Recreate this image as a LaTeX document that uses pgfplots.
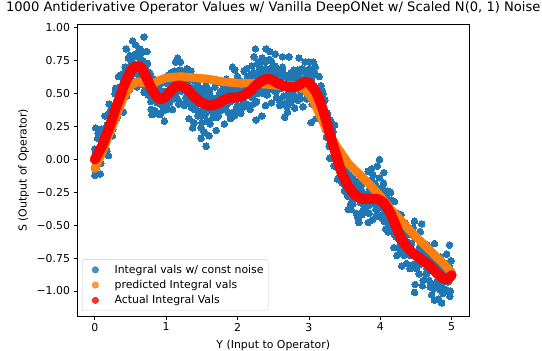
\documentclass[border=0pt]{standalone}
\usepackage{fontspec}
\setmainfont{DejaVu Sans}
\usepackage{pgfplots}
\pgfplotsset{compat=1.18}
\definecolor{tabblue}{HTML}{1F77B4}
\definecolor{taborange}{HTML}{FF7F0E}

\begin{document}
\begin{tikzpicture}
\begin{axis}[
  name=ax,
  width=392.5pt, height=291.5pt, scale only axis,
  clip mode=individual,
  xmin=-0.25, xmax=5.25, ymin=-1.19, ymax=1.025,
  xtick={0,1,2,3,4,5},
  ytick={-1,-0.75,-0.5,-0.25,0,0.25,0.5,0.75,1},
  yticklabels={−1.00,−0.75,−0.50,−0.25,0.00,0.25,0.50,0.75,1.00},
  tick align=outside, tick pos=left, major tick length=3.5pt,
  every tick/.style={black, line width=0.8pt},
  axis line style={line width=0.8pt},
  /pgf/number format/assume math mode=true,
  tick label style={font=\fontsize{10.9}{13}\selectfont},
  title={1000 Antiderivative Operator Values w/ Vanilla DeepONet w/ Scaled N(0, 1) Noise},
  title style={font=\fontsize{13.1}{15}\selectfont, at={(axis description cs:0.5,1.0223)}, anchor=base, inner sep=0pt},
  xlabel={Y (Input to Operator)},
  ylabel={S (Output of Operator)},
  xlabel style={at={(axis description cs:0.5,-0.112)}, anchor=base, inner sep=0pt},
  ylabel style={at={(axis description cs:-0.1223,0.5)}, anchor=south, inner sep=0pt},
  label style={font=\fontsize{10.9}{13}\selectfont},
  legend cell align=left,
  legend style={at={(0.0127,0.0172)}, anchor=south west, draw=black!20,
    rounded corners=2pt, fill=white, fill opacity=0.8, text opacity=1,
    font=\fontsize{10.9}{13}\selectfont, inner xsep=3pt, inner ysep=4pt,
    row sep=2.5pt, column sep=7.5pt, nodes={inner sep=1.5pt}},
]
% noisy samples
\addplot[forget plot, only marks, mark=*, mark size=3.3pt, color=tabblue, mark options={line width=0pt}] coordinates {
(0.000,0.08)(0.015,-0.11)(0.030,0.06)(0.045,0.20)(0.060,0.01)(0.075,-0.11)(0.090,0.20)
(0.000,-0.12)(0.010,0.24)(0.020,-0.05)
(0.100,0.23)(0.115,0.14)(0.130,0.08)(0.145,0.33)(0.160,0.08)(0.175,0.26)(0.190,0.03)
(0.200,0.42)(0.215,0.22)(0.230,0.40)(0.245,0.18)(0.260,0.37)(0.275,0.29)(0.290,0.54)
(0.300,0.41)(0.315,0.33)(0.330,0.63)(0.345,0.44)(0.360,0.55)(0.375,0.37)(0.390,0.65)
(0.400,0.36)(0.415,0.63)(0.430,0.68)(0.445,0.48)(0.460,0.63)(0.475,0.59)(0.490,0.79)
(0.440,0.84)(0.470,0.77)
(0.500,0.60)(0.515,0.72)(0.530,0.90)(0.545,0.59)(0.560,0.69)(0.575,0.80)(0.590,0.55)
(0.570,0.87)
(0.600,0.81)(0.615,0.68)(0.630,0.84)(0.645,0.62)(0.660,0.69)(0.675,0.75)(0.690,0.51)
(0.690,0.93)(0.620,0.78)
(0.700,0.58)(0.715,0.67)(0.730,0.82)(0.745,0.49)(0.760,0.57)(0.775,0.65)(0.790,0.38)
(0.800,0.34)(0.815,0.58)(0.830,0.60)(0.845,0.37)(0.860,0.49)(0.875,0.43)(0.890,0.60)
(0.900,0.54)(0.915,0.34)(0.930,0.49)(0.945,0.61)(0.960,0.41)(0.975,0.29)(0.990,0.59)
(1.000,0.58)(1.015,0.46)(1.030,0.64)(1.045,0.43)(1.060,0.52)(1.075,0.60)(1.090,0.38)
(1.100,0.55)(1.115,0.46)(1.130,0.74)(1.145,0.54)(1.160,0.62)(1.175,0.42)(1.190,0.68)
(1.160,0.77)
(1.200,0.74)(1.215,0.52)(1.230,0.66)(1.245,0.42)(1.260,0.58)(1.275,0.47)(1.290,0.69)
(1.300,0.66)(1.315,0.54)(1.330,0.45)(1.345,0.67)(1.360,0.39)(1.375,0.54)(1.390,0.28)
(1.320,0.31)(1.370,0.24)
(1.400,0.60)(1.415,0.41)(1.430,0.47)(1.445,0.33)(1.460,0.54)(1.475,0.50)(1.490,0.24)
(1.490,0.16)
(1.500,0.28)(1.515,0.50)(1.530,0.42)(1.545,0.34)(1.560,0.56)(1.575,0.39)(1.590,0.51)
(1.560,0.10)(1.530,0.21)(1.600,0.18)
(1.600,0.53)(1.615,0.27)(1.630,0.47)(1.645,0.39)(1.660,0.60)(1.675,0.33)(1.690,0.43)
(1.700,0.22)(1.715,0.47)(1.730,0.33)(1.745,0.60)(1.760,0.37)(1.775,0.46)(1.790,0.58)
(1.800,0.56)(1.815,0.27)(1.830,0.41)(1.845,0.61)(1.860,0.49)(1.875,0.35)(1.890,0.55)
(1.900,0.31)(1.915,0.56)(1.930,0.46)(1.945,0.36)(1.960,0.68)(1.975,0.51)(1.990,0.40)
(1.930,0.70)
(2.000,0.63)(2.015,0.40)(2.030,0.51)(2.045,0.35)(2.060,0.59)(2.075,0.45)(2.090,0.67)
(2.100,0.50)(2.115,0.41)(2.130,0.69)(2.145,0.49)(2.160,0.57)(2.175,0.38)(2.190,0.65)
(2.200,0.71)(2.215,0.50)(2.230,0.66)(2.245,0.43)(2.260,0.59)(2.275,0.50)(2.290,0.74)
(2.250,0.84)(2.260,0.30)(2.230,0.78)
(2.300,0.71)(2.315,0.61)(2.330,0.53)(2.345,0.77)(2.360,0.50)(2.375,0.66)(2.390,0.41)
(2.340,0.33)
(2.400,0.69)(2.415,0.49)(2.430,0.64)(2.445,0.76)(2.460,0.56)(2.475,0.43)(2.490,0.71)
(2.450,0.82)(2.400,0.84)
(2.500,0.53)(2.515,0.63)(2.530,0.80)(2.545,0.47)(2.560,0.57)(2.575,0.67)(2.590,0.41)
(2.600,0.67)(2.615,0.54)(2.630,0.70)(2.645,0.48)(2.660,0.56)(2.675,0.63)(2.690,0.40)
(2.630,0.78)(2.660,0.32)
(2.700,0.36)(2.715,0.61)(2.730,0.64)(2.745,0.43)(2.760,0.56)(2.775,0.50)(2.790,0.68)
(2.720,0.78)
(2.800,0.39)(2.815,0.64)(2.830,0.55)(2.845,0.45)(2.860,0.77)(2.875,0.61)(2.890,0.51)
(2.900,0.69)(2.915,0.40)(2.930,0.54)(2.945,0.74)(2.960,0.62)(2.975,0.47)(2.990,0.66)
(3.000,0.74)(3.015,0.50)(3.030,0.59)(3.045,0.42)(3.060,0.65)(3.075,0.49)(3.090,0.70)
(3.030,0.28)(3.060,0.74)
(3.100,0.31)(3.115,0.54)(3.130,0.37)(3.145,0.63)(3.160,0.37)(3.175,0.43)(3.190,0.52)
(3.200,0.50)(3.215,0.29)(3.230,0.33)(3.245,0.17)(3.260,0.35)(3.275,0.29)(3.290,0.01)
(3.300,0.30)(3.315,0.01)(3.330,0.19)(3.345,0.08)(3.360,0.26)(3.375,-0.05)(3.390,0.03)
(3.400,-0.15)(3.415,0.04)(3.430,-0.05)(3.445,-0.16)(3.460,0.04)(3.475,-0.15)(3.490,-0.04)
(3.500,-0.05)(3.515,-0.20)(3.530,-0.04)(3.545,-0.28)(3.560,-0.21)(3.575,-0.15)(3.590,-0.38)
(3.550,-0.38)
(3.600,-0.23)(3.615,-0.34)(3.630,-0.07)(3.645,-0.29)(3.660,-0.21)(3.675,-0.42)(3.690,-0.17)
(3.690,-0.45)
(3.700,-0.48)(3.715,-0.23)(3.730,-0.20)(3.745,-0.42)(3.760,-0.29)(3.775,-0.35)(3.790,-0.17)
(3.800,-0.37)(3.815,-0.26)(3.830,-0.09)(3.845,-0.41)(3.860,-0.31)(3.875,-0.21)(3.890,-0.46)
(3.830,-0.48)(3.880,-0.07)
(3.900,-0.12)(3.915,-0.34)(3.930,-0.19)(3.945,-0.43)(3.960,-0.27)(3.975,-0.37)(3.990,-0.14)
(3.990,0.00)(3.960,-0.05)
(4.000,-0.23)(4.015,-0.44)(4.030,-0.29)(4.045,-0.18)(4.060,-0.39)(4.075,-0.53)(4.090,-0.25)
(4.050,-0.10)(4.110,-0.55)
(4.100,-0.24)(4.115,-0.37)(4.130,-0.46)(4.145,-0.25)(4.160,-0.53)(4.175,-0.40)(4.190,-0.67)
(4.200,-0.32)(4.215,-0.57)(4.230,-0.49)(4.245,-0.67)(4.260,-0.45)(4.275,-0.62)(4.290,-0.42)
(4.230,-0.73)
(4.300,-0.81)(4.315,-0.57)(4.330,-0.73)(4.345,-0.48)(4.360,-0.72)(4.375,-0.65)(4.390,-0.54)
(4.400,-0.56)(4.415,-0.83)(4.430,-0.64)(4.445,-0.73)(4.460,-0.52)(4.475,-0.81)(4.490,-0.72)
(4.480,-0.47)(4.480,-1.01)(4.490,-0.95)
(4.500,-0.60)(4.515,-0.79)(4.530,-0.73)(4.545,-0.87)(4.560,-0.66)(4.575,-0.70)(4.590,-0.96)
(4.580,-0.49)(4.560,-0.55)
(4.600,-0.92)(4.615,-0.71)(4.630,-0.78)(4.645,-0.87)(4.660,-0.65)(4.675,-0.83)(4.690,-0.71)
(4.700,-0.97)(4.715,-0.73)(4.730,-0.84)(4.745,-0.95)(4.760,-0.64)(4.775,-0.82)(4.790,-0.93)
(4.760,-1.07)(4.720,-1.03)
(4.800,-0.76)(4.815,-1.06)(4.830,-0.93)(4.845,-0.74)(4.860,-0.86)(4.875,-1.02)(4.890,-0.83)
(4.860,-1.09)(4.840,-0.99)
(4.900,-0.90)(4.915,-1.00)(4.930,-0.72)(4.945,-0.93)(4.960,-0.84)(4.975,-1.04)(4.990,-0.77)
(4.970,-0.65)(5.000,-0.86)(4.950,-1.00)
};
% more samples, closer to the curve
\addplot[forget plot, only marks, mark=*, mark size=3.3pt, color=tabblue, mark options={line width=0pt}] coordinates {
(0.008,0.06)(0.023,-0.06)(0.038,0.16)(0.053,0.03)(0.068,0.16)(0.083,-0.03)(0.098,0.13)
(0.108,0.05)(0.123,0.23)(0.138,0.14)(0.153,0.24)(0.168,0.06)(0.183,0.26)(0.198,0.24)
(0.208,0.36)(0.223,0.24)(0.238,0.36)(0.253,0.23)(0.268,0.37)(0.283,0.50)(0.298,0.33)
(0.308,0.31)(0.323,0.46)(0.338,0.40)(0.353,0.55)(0.368,0.64)(0.383,0.49)(0.398,0.61)
(0.408,0.58)(0.423,0.70)(0.438,0.52)(0.453,0.57)(0.468,0.70)(0.483,0.53)(0.498,0.76)
(0.508,0.64)(0.523,0.74)(0.538,0.79)(0.553,0.56)(0.568,0.71)(0.583,0.79)(0.598,0.65)
(0.608,0.78)(0.623,0.61)(0.638,0.74)(0.653,0.81)(0.668,0.61)(0.683,0.67)(0.698,0.56)
(0.708,0.69)(0.723,0.54)(0.738,0.73)(0.753,0.57)(0.768,0.66)(0.783,0.44)(0.798,0.56)
(0.808,0.46)(0.823,0.61)(0.838,0.49)(0.853,0.56)(0.868,0.35)(0.883,0.51)(0.898,0.46)
(0.908,0.57)(0.923,0.42)(0.938,0.52)(0.953,0.37)(0.968,0.49)(0.983,0.60)(0.998,0.41)
(1.008,0.38)(1.023,0.52)(1.038,0.45)(1.053,0.59)(1.068,0.66)(1.083,0.50)(1.098,0.60)
(1.108,0.56)(1.123,0.67)(1.138,0.48)(1.153,0.52)(1.168,0.63)(1.183,0.44)(1.198,0.65)
(1.208,0.53)(1.223,0.62)(1.238,0.65)(1.253,0.41)(1.268,0.55)(1.283,0.62)(1.298,0.47)
(1.308,0.60)(1.323,0.42)(1.338,0.55)(1.353,0.61)(1.368,0.42)(1.383,0.48)(1.398,0.38)
(1.408,0.52)(1.423,0.38)(1.438,0.58)(1.453,0.43)(1.468,0.53)(1.483,0.33)(1.498,0.46)
(1.508,0.37)(1.523,0.53)(1.538,0.41)(1.553,0.49)(1.568,0.29)(1.583,0.45)(1.598,0.41)
(1.608,0.52)(1.623,0.37)(1.638,0.47)(1.653,0.32)(1.668,0.43)(1.683,0.55)(1.698,0.35)
(1.708,0.32)(1.723,0.45)(1.738,0.38)(1.753,0.51)(1.768,0.58)(1.783,0.41)(1.798,0.51)
(1.808,0.47)(1.823,0.57)(1.838,0.38)(1.853,0.42)(1.868,0.53)(1.883,0.35)(1.898,0.56)
(1.908,0.44)(1.923,0.53)(1.938,0.57)(1.953,0.33)(1.968,0.48)(1.983,0.55)(1.998,0.41)
(2.008,0.54)(2.023,0.37)(2.038,0.52)(2.053,0.59)(2.068,0.41)(2.083,0.49)(2.098,0.40)
(2.108,0.54)(2.123,0.42)(2.138,0.63)(2.153,0.49)(2.168,0.61)(2.183,0.41)(2.198,0.56)
(2.208,0.47)(2.223,0.64)(2.238,0.54)(2.253,0.63)(2.268,0.44)(2.283,0.61)(2.298,0.58)
(2.308,0.69)(2.323,0.55)(2.338,0.66)(2.353,0.51)(2.368,0.62)(2.383,0.74)(2.398,0.54)
(2.408,0.51)(2.423,0.64)(2.438,0.56)(2.453,0.69)(2.468,0.75)(2.483,0.58)(2.498,0.66)
(2.508,0.62)(2.523,0.71)(2.538,0.51)(2.553,0.54)(2.568,0.65)(2.583,0.45)(2.598,0.66)
(2.608,0.54)(2.623,0.63)(2.638,0.66)(2.653,0.42)(2.668,0.57)(2.683,0.63)(2.698,0.49)
(2.708,0.62)(2.723,0.45)(2.738,0.59)(2.753,0.66)(2.768,0.48)(2.783,0.55)(2.798,0.46)
(2.808,0.60)(2.823,0.47)(2.838,0.68)(2.853,0.54)(2.868,0.66)(2.883,0.46)(2.898,0.61)
(2.908,0.52)(2.923,0.68)(2.938,0.58)(2.953,0.66)(2.968,0.46)(2.983,0.62)(2.998,0.58)
(3.008,0.69)(3.023,0.53)(3.038,0.62)(3.053,0.46)(3.068,0.56)(3.083,0.65)(3.098,0.44)
(3.108,0.40)(3.123,0.51)(3.138,0.42)(3.153,0.53)(3.168,0.56)(3.183,0.37)(3.198,0.43)
(3.208,0.38)(3.223,0.45)(3.238,0.22)(3.253,0.24)(3.268,0.32)(3.283,0.10)(3.298,0.28)
(3.308,0.14)(3.323,0.20)(3.338,0.21)(3.353,-0.05)(3.368,0.07)(3.383,0.11)(3.398,-0.06)
(3.408,0.06)(3.423,-0.14)(3.438,-0.03)(3.453,0.02)(3.468,-0.18)(3.483,-0.13)(3.498,-0.24)
(3.508,-0.11)(3.523,-0.25)(3.538,-0.07)(3.553,-0.22)(3.568,-0.12)(3.583,-0.34)(3.598,-0.21)
(3.608,-0.30)(3.623,-0.15)(3.638,-0.27)(3.653,-0.20)(3.668,-0.41)(3.683,-0.24)(3.698,-0.29)
(3.708,-0.18)(3.723,-0.33)(3.738,-0.24)(3.753,-0.39)(3.768,-0.28)(3.783,-0.17)(3.798,-0.37)
(3.808,-0.40)(3.823,-0.27)(3.838,-0.35)(3.853,-0.22)(3.868,-0.16)(3.883,-0.33)(3.898,-0.24)
(3.908,-0.28)(3.923,-0.18)(3.938,-0.38)(3.953,-0.34)(3.968,-0.23)(3.983,-0.42)(3.998,-0.22)
(4.008,-0.34)(4.023,-0.26)(4.038,-0.22)(4.053,-0.47)(4.068,-0.33)(4.083,-0.28)(4.098,-0.43)
(4.108,-0.31)(4.123,-0.49)(4.138,-0.37)(4.153,-0.31)(4.168,-0.51)(4.183,-0.46)(4.198,-0.57)
(4.208,-0.44)(4.223,-0.59)(4.238,-0.41)(4.253,-0.57)(4.268,-0.48)(4.283,-0.70)(4.298,-0.58)
(4.308,-0.68)(4.323,-0.53)(4.338,-0.65)(4.353,-0.58)(4.368,-0.79)(4.383,-0.63)(4.398,-0.68)
(4.408,-0.57)(4.423,-0.73)(4.438,-0.64)(4.453,-0.80)(4.468,-0.70)(4.483,-0.59)(4.498,-0.80)
(4.508,-0.83)(4.523,-0.71)(4.538,-0.80)(4.553,-0.67)(4.568,-0.62)(4.583,-0.79)(4.598,-0.71)
(4.608,-0.75)(4.623,-0.66)(4.638,-0.87)(4.653,-0.83)(4.668,-0.73)(4.683,-0.92)(4.698,-0.72)
(4.708,-0.84)(4.723,-0.76)(4.738,-0.73)(4.753,-0.98)(4.768,-0.84)(4.783,-0.78)(4.798,-0.93)
(4.808,-0.80)(4.823,-0.98)(4.838,-0.85)(4.853,-0.78)(4.868,-0.97)(4.883,-0.90)(4.898,-1.00)
(4.908,-0.86)(4.923,-0.99)(4.938,-0.79)(4.953,-0.93)(4.968,-0.81)(4.983,-1.00)(4.998,-0.85)
};

% network prediction
\addplot[forget plot, taborange, line width=8.5pt, line cap=round, line join=round] coordinates {
(0.00,-0.07)(0.10,0.05)(0.20,0.19)(0.30,0.33)(0.40,0.47)(0.50,0.56)(0.60,0.59)
(0.70,0.58)(0.80,0.57)(0.90,0.60)(1.00,0.62)(1.20,0.63)(1.40,0.62)(1.60,0.61)
(1.80,0.59)(2.00,0.58)(2.20,0.58)(2.40,0.57)(2.60,0.56)(2.80,0.56)(2.95,0.53)
(3.05,0.46)(3.15,0.34)(3.25,0.22)(3.40,0.09)(3.55,-0.03)(3.70,-0.11)(3.85,-0.19)
(4.00,-0.28)(4.15,-0.38)(4.30,-0.47)(4.45,-0.56)(4.60,-0.64)(4.75,-0.72)(4.90,-0.80)
(5.00,-0.86)
};

% exact antiderivative
\addplot[forget plot, red, line width=10pt, line cap=round, line join=round] coordinates {
(0.00,0.00)(0.05,0.05)(0.10,0.10)(0.15,0.17)(0.20,0.24)(0.25,0.32)(0.30,0.40)
(0.35,0.47)(0.40,0.55)(0.45,0.61)(0.50,0.67)(0.55,0.70)(0.60,0.71)(0.65,0.70)
(0.70,0.65)(0.75,0.59)(0.80,0.53)(0.85,0.49)(0.90,0.46)(0.95,0.46)(1.00,0.48)
(1.05,0.51)(1.10,0.54)(1.15,0.56)(1.20,0.56)(1.25,0.55)(1.30,0.53)(1.35,0.50)
(1.40,0.47)(1.45,0.45)(1.50,0.43)(1.55,0.42)(1.60,0.41)(1.65,0.41)(1.70,0.42)
(1.75,0.43)(1.80,0.45)(1.85,0.46)(1.90,0.47)(1.95,0.47)(2.00,0.47)(2.05,0.48)
(2.10,0.49)(2.15,0.51)(2.20,0.53)(2.25,0.56)(2.30,0.58)(2.35,0.60)(2.40,0.61)
(2.45,0.61)(2.50,0.60)(2.55,0.58)(2.60,0.57)(2.65,0.56)(2.70,0.55)(2.75,0.55)
(2.80,0.55)(2.85,0.56)(2.90,0.58)(2.95,0.59)(3.00,0.58)(3.05,0.55)(3.10,0.51)
(3.15,0.45)(3.20,0.37)(3.25,0.28)(3.30,0.18)(3.35,0.09)(3.40,0.00)(3.45,-0.09)
(3.50,-0.15)(3.55,-0.20)(3.60,-0.24)(3.65,-0.27)(3.70,-0.29)(3.75,-0.30)(3.80,-0.30)
(3.85,-0.30)(3.90,-0.30)(3.95,-0.30)(4.00,-0.31)(4.05,-0.33)(4.10,-0.37)(4.15,-0.42)
(4.20,-0.48)(4.25,-0.55)(4.30,-0.61)(4.35,-0.65)(4.40,-0.68)(4.45,-0.71)(4.50,-0.73)
(4.55,-0.75)(4.60,-0.77)(4.65,-0.79)(4.70,-0.81)(4.75,-0.84)(4.80,-0.87)(4.85,-0.89)
(4.90,-0.91)(4.95,-0.91)(5.00,-0.88)
};

\addlegendimage{legend image code/.code={\path (0pt,0pt) (20pt,0pt); \fill[tabblue] (10pt,0pt) circle (3.2pt);}}
\addlegendentry{Integral vals w/ const noise}
\addlegendimage{legend image code/.code={\path (0pt,0pt) (20pt,0pt); \fill[taborange] (10pt,0pt) circle (3.2pt);}}
\addlegendentry{predicted Integral vals}
\addlegendimage{legend image code/.code={\path (0pt,0pt) (20pt,0pt); \fill[red] (10pt,0pt) circle (3.2pt);}}
\addlegendentry{Actual Integral Vals}
\end{axis}
% page frame as in the reference figure
\pgfresetboundingbox
\path ([xshift=-77pt,yshift=-34pt]ax.south west) rectangle ([xshift=72.5pt,yshift=24.5pt]ax.north east);
\end{tikzpicture}
\end{document}
